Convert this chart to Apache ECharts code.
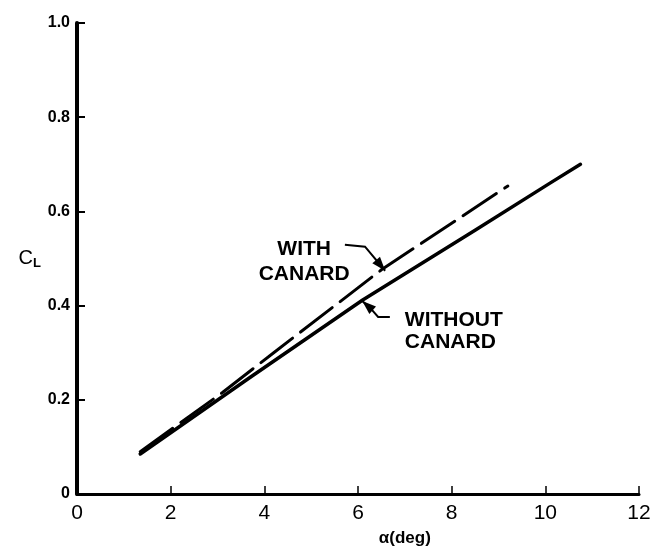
<!DOCTYPE html>
<html>
<head>
<meta charset="utf-8">
<script src="https://cdn.jsdelivr.net/npm/echarts@6/dist/echarts.min.js"></script>
<style>
  html, body { margin: 0; padding: 0; background: #fff; }
  #chart { width: 654px; height: 547px; }
</style>
</head>
<body>
<div id="chart"></div>
<script>
// lift coefficient vs angle of attack
var withoutAlpha = [1.35, 3.7, 6.1, 8.5, 10.1, 10.75];
var withoutCL    = [0.085, 0.248, 0.412, 0.56, 0.66, 0.70];

var withAlpha = [1.35, 3.1, 4.2, 6.5, 9.2];
var withCL    = [0.09, 0.215, 0.30, 0.476, 0.654];

var xTickLabels = ['0', '2', '4', '6', '8', '10', '12'];
var yTickLabels = ['0', '0.2', '0.4', '0.6', '0.8', '1.0'];

function pairs(xs, ys) {
    return xs.map(function (x, i) { return [x, ys[i]]; });
}

var chart = echarts.init(document.getElementById('chart'), null, { renderer: 'canvas' });

var option = {
    backgroundColor: '#fff',
    animation: false,
    grid: { left: 77, right: 15, top: 23, bottom: 53 },
    xAxis: {
        type: 'value',
        min: 0, max: 12, interval: 2,
        axisLine: { show: true, lineStyle: { color: '#000', width: 3 } },
        axisTick: { show: true, inside: true, length: 8, lineStyle: { color: '#000', width: 1.5 } },
        splitLine: { show: false },
        axisLabel: {
            margin: 9,
            color: '#000',
            fontSize: 21,
            fontFamily: 'Liberation Sans',
            formatter: function (v) { return xTickLabels[Math.round(v / 2)]; }
        }
    },
    yAxis: {
        type: 'value',
        min: 0, max: 1, interval: 0.2,
        name: '{c|C}{l|L}',
        nameLocation: 'middle',
        nameRotate: 0,
        nameGap: 36,
        nameTextStyle: {
            rich: {
                c: { fontSize: 20, color: '#000', fontFamily: 'Liberation Sans' },
                l: { fontSize: 13, color: '#000', fontFamily: 'Liberation Sans', fontWeight: 'bold', padding: [10, 0, 0, 0] }
            }
        },
        axisLine: { show: true, lineStyle: { color: '#000', width: 4 } },
        axisTick: { show: true, inside: true, length: 8, lineStyle: { color: '#000', width: 2 } },
        splitLine: { show: false },
        axisLabel: {
            margin: 7,
            color: '#000',
            fontSize: 16,
            fontWeight: 'bold',
            fontFamily: 'Liberation Sans',
            formatter: function (v) { return yTickLabels[Math.round(v / 0.2)]; }
        }
    },
    series: [
        {
            name: 'WITHOUT CANARD',
            type: 'line',
            data: pairs(withoutAlpha, withoutCL),
            showSymbol: false,
            lineStyle: { color: '#000', width: 3.5, cap: 'round', join: 'round' }
        },
        {
            name: 'WITH CANARD',
            type: 'line',
            data: pairs(withAlpha, withCL),
            showSymbol: false,
            lineStyle: { color: '#000', width: 3, type: [40, 10], cap: 'round', join: 'round' }
        }
    ]
};
chart.setOption(option);

/* annotations, anchored in data space */
var notes = [
    { text: 'WITH\nCANARD', at: [4.85, 0.494], align: 'center', lineHeight: 25,
      arrow: [[5.72, 0.529], [6.15, 0.525], [6.58, 0.474]] },
    { text: 'WITHOUT\nCANARD', at: [7.0, 0.345], align: 'left', lineHeight: 22,
      arrow: [[6.68, 0.376], [6.43, 0.376], [6.26, 0.395], [6.09, 0.410]] }
];

var graphics = [];
notes.forEach(function (n) {
    var p = chart.convertToPixel('grid', n.at);
    graphics.push({
        type: 'text', x: p[0], y: p[1], z: 10,
        style: {
            text: n.text, fill: '#000', align: n.align, verticalAlign: 'middle',
            font: 'bold 21px "Liberation Sans"', lineHeight: n.lineHeight
        }
    });
    var pts = n.arrow.map(function (d) { return chart.convertToPixel('grid', d); });
    graphics.push({
        type: 'polyline', z: 10,
        shape: { points: pts },
        style: { stroke: '#000', lineWidth: 2, fill: null }
    });
    var tip = pts[pts.length - 1], prev = pts[pts.length - 2];
    var dx = tip[0] - prev[0], dy = tip[1] - prev[1];
    var len = Math.sqrt(dx * dx + dy * dy);
    dx /= len; dy /= len;
    var bx = tip[0] - dx * 14, by = tip[1] - dy * 14;
    graphics.push({
        type: 'polygon', z: 10,
        shape: { points: [tip, [bx - dy * 5, by + dx * 5], [bx + dy * 5, by - dx * 5]] },
        style: { fill: '#000' }
    });
});

// axis title sits right of centre in the scan
var nameAt = chart.convertToPixel('grid', [7.0, 0]);
graphics.push({
    type: 'text', x: nameAt[0], y: nameAt[1] + 44,
    style: { text: 'α(deg)', fill: '#000', align: 'center', verticalAlign: 'middle',
             font: 'bold 17px "Liberation Sans"' }
});

chart.setOption({ graphic: graphics });
</script>
</body>
</html>
